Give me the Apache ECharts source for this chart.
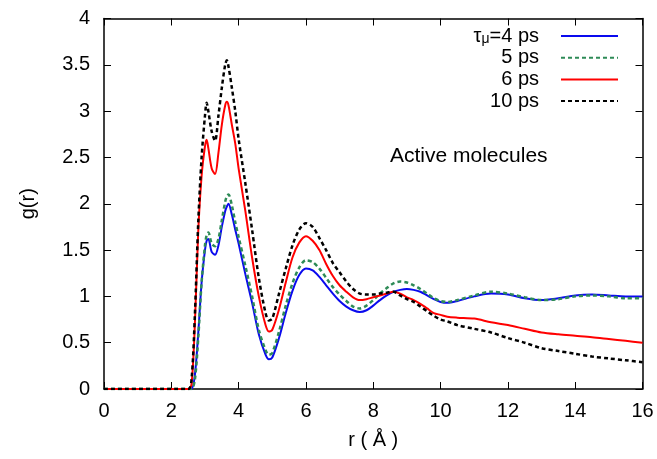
<!DOCTYPE html>
<html>
<head>
<meta charset="utf-8">
<script src="https://cdn.jsdelivr.net/npm/echarts@6/dist/echarts.min.js"></script>
<style>html,body{margin:0;padding:0;background:#fff}#c{width:657px;height:459px}</style>
</head>
<body>
<div id="c"></div>
<script>
const r = [0, 2.5, 2.6, 2.7, 2.8, 2.9, 3.0, 3.05, 3.1, 3.2, 3.3, 3.4, 3.5, 3.6, 3.65, 3.7, 3.8, 3.9, 4.0, 4.2, 4.4, 4.6, 4.8, 4.9, 5.0, 5.2, 5.4, 5.6, 5.8, 6.0, 6.2, 6.4, 6.6, 6.8, 7.0, 7.2, 7.4, 7.6, 7.8, 8.0, 8.2, 8.4, 8.6, 8.8, 9.0, 9.2, 9.4, 9.6, 9.8, 10.0, 10.2, 10.5, 11.0, 11.5, 12.0, 12.5, 13.0, 13.5, 14.0, 14.5, 15.0, 15.5, 16.0];
const g4 = [0, 0, 0.0, 0.15, 0.6, 1.15, 1.5, 1.6, 1.62, 1.48, 1.45, 1.55, 1.75, 1.92, 1.97, 2.0, 1.88, 1.72, 1.57, 1.24, 0.93, 0.59, 0.37, 0.32, 0.34, 0.55, 0.82, 1.06, 1.23, 1.30, 1.28, 1.21, 1.12, 1.03, 0.95, 0.89, 0.85, 0.83, 0.85, 0.9, 0.96, 1.01, 1.05, 1.07, 1.08, 1.07, 1.05, 1.01, 0.97, 0.94, 0.93, 0.95, 1.0, 1.03, 1.02, 0.98, 0.96, 0.98, 1.01, 1.02, 1.01, 1.0, 1.0];
const g5 = [0, 0, 0.0, 0.1, 0.55, 1.15, 1.55, 1.66, 1.69, 1.57, 1.54, 1.62, 1.82, 2.02, 2.08, 2.1, 1.98, 1.8, 1.64, 1.33, 1.0, 0.64, 0.42, 0.37, 0.39, 0.62, 0.9, 1.14, 1.31, 1.39, 1.37, 1.3, 1.2, 1.1, 1.02, 0.95, 0.89, 0.87, 0.9, 0.96, 1.03, 1.09, 1.14, 1.16, 1.15, 1.12, 1.08, 1.03, 0.98, 0.95, 0.94, 0.96, 1.01, 1.05, 1.03, 0.99, 0.96, 0.97, 1.0, 1.01, 1.0, 0.98, 0.98];
const g6 = [0, 0, 0.05, 0.7, 1.7, 2.3, 2.62, 2.69, 2.6, 2.38, 2.32, 2.55, 2.85, 3.06, 3.1, 3.06, 2.85, 2.65, 2.38, 1.92, 1.42, 1.0, 0.69, 0.62, 0.64, 0.86, 1.15, 1.42, 1.58, 1.65, 1.6, 1.5, 1.35, 1.22, 1.12, 1.05, 0.99, 0.96, 0.97, 0.99, 1.01, 1.03, 1.05, 1.03, 0.99, 0.96, 0.92, 0.87, 0.82, 0.8, 0.78, 0.77, 0.76, 0.72, 0.69, 0.65, 0.61, 0.59, 0.575, 0.56, 0.54, 0.52, 0.5];
const g10 = [0, 0, 0.1, 0.8, 1.8, 2.5, 2.95, 3.09, 3.0, 2.78, 2.68, 2.95, 3.25, 3.5, 3.55, 3.48, 3.25, 3.0, 2.7, 2.22, 1.72, 1.2, 0.82, 0.74, 0.76, 1.03, 1.3, 1.55, 1.72, 1.79, 1.75, 1.63, 1.5, 1.36, 1.26, 1.16, 1.08, 1.03, 1.02, 1.02, 1.03, 1.04, 1.05, 1.01, 0.97, 0.94, 0.89, 0.84, 0.79, 0.75, 0.73, 0.69, 0.65, 0.61, 0.55, 0.5, 0.44, 0.41, 0.38, 0.35, 0.33, 0.31, 0.29];
const seriesNames = ['τμ=4 ps', '5 ps', '6 ps', '10 ps'];
const legendLabels = ['{a|τ}{b|μ}{a|=4 ps}', '{a|5 ps}', '{a|6 ps}', '{a|10 ps}'];
const annotation = 'Active molecules';

const font = 'Liberation Sans, Arial, Helvetica, sans-serif';
const pair = (ys) => r.map((x, i) => [x, ys[i]]);
const styles = [
  {color: '#0a0aee', type: 'solid', width: 2},
  {color: '#2e8b57', type: [4, 3], width: 2.5},
  {color: '#ff0000', type: 'solid', width: 2},
  {color: '#000000', type: [4, 3], width: 2.5}
];
const datasets = [g4, g5, g6, g10];

const chart = echarts.init(document.getElementById('c'), null, {renderer: 'canvas'});
const axisCommon = {
  axisLine: {show: true, onZero: false, lineStyle: {color: '#000', width: 1.5}},
  axisTick: {show: true, inside: true, length: 7, lineStyle: {color: '#000', width: 1}},
  splitLine: {show: false}
};
chart.setOption({
  animation: false,
  backgroundColor: '#fff',
  grid: {left: 104, right: 14.5, top: 18.5, bottom: 70},
  xAxis: [
    Object.assign({type: 'value', min: 0, max: 16, interval: 2, position: 'bottom',
      name: 'r ( Å )', nameLocation: 'middle', nameGap: 41,
      nameTextStyle: {fontFamily: font, fontSize: 20, color: '#000'},
      axisLabel: {fontFamily: font, fontSize: 20, color: '#000', margin: 12}}, axisCommon),
    Object.assign({type: 'value', min: 0, max: 16, interval: 2, position: 'top',
      axisLabel: {show: false}}, axisCommon)
  ],
  yAxis: [
    Object.assign({type: 'value', min: 0, max: 4, interval: 0.5, position: 'left',
      name: 'g(r)', nameLocation: 'middle', nameGap: 66, nameRotate: 90,
      nameTextStyle: {fontFamily: font, fontSize: 20, color: '#000'},
      axisLabel: {fontFamily: font, fontSize: 20, color: '#000', margin: 14}}, axisCommon),
    Object.assign({type: 'value', min: 0, max: 4, interval: 0.5, position: 'right',
      axisLabel: {show: false}}, axisCommon)
  ],
  legend: {
    orient: 'vertical', right: 33, top: 17, align: 'right',
    itemWidth: 57, itemHeight: 12, itemGap: 1.7,
    itemStyle: {opacity: 0},
    data: seriesNames,
    formatter: (name) => legendLabels[seriesNames.indexOf(name)],
    textStyle: {
      padding: [0, 17, 0, 0],
      rich: {
        a: {fontFamily: font, fontSize: 20, color: '#000', lineHeight: 20},
        b: {fontFamily: font, fontSize: 14, color: '#000', lineHeight: 20, verticalAlign: 'bottom', padding: [10, 0, 0, 0]}
      }
    }
  },
  graphic: [{
    type: 'text', left: 390, top: 146,
    style: {text: annotation, font: '21px ' + font, fill: '#000'}
  }],
  series: datasets.map((d, i) => ({
    name: seriesNames[i], type: 'line', data: pair(d), smooth: 0.3,
    showSymbol: false, symbol: 'none',
    lineStyle: styles[i], itemStyle: {color: styles[i].color}
  }))
});
</script>
</body>
</html>
